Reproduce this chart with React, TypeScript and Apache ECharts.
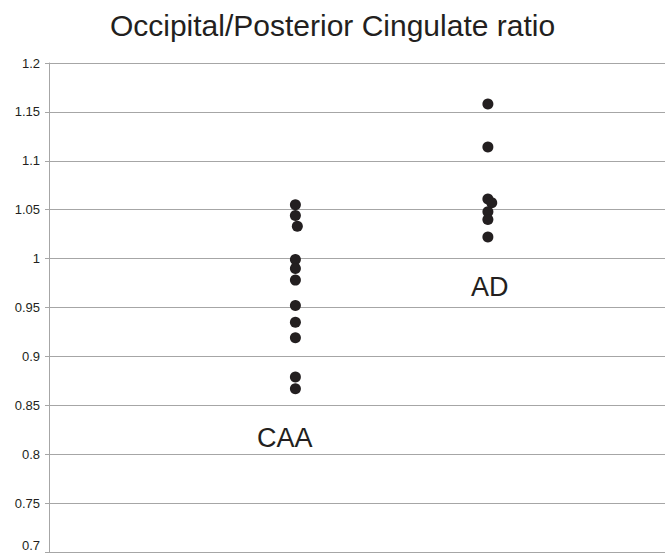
import React, { useEffect, useRef } from "react";
import * as echarts from "echarts";

const titleText = "Occipital/Posterior Cingulate ratio";
const groupNames = ["CAA", "AD"];
const caaX = [1.28, 1.28, 1.29, 1.28, 1.28, 1.28, 1.28, 1.28, 1.28, 1.28, 1.28];
const caaY = [1.055, 1.044, 1.033, 0.999, 0.990, 0.978, 0.952, 0.935, 0.919, 0.879, 0.867];
const adX = [2.28, 2.28, 2.28, 2.30, 2.28, 2.28, 2.28];
const adY = [1.158, 1.114, 1.061, 1.057, 1.048, 1.040, 1.022];
const yMin = 0.7;
const yMax = 1.2;
const yStep = 0.05;
const xMin = 0;
const xMax = 3.2;

export default function App() {
  const ref = useRef<HTMLDivElement>(null);
  useEffect(() => {
    document.body.style.margin = "0";
    if (!ref.current) return;
    const chart = echarts.init(ref.current, undefined, { renderer: "svg" });
    const font = "'Liberation Sans', Arial, sans-serif";
    chart.setOption({
      animation: false,
      backgroundColor: "#ffffff",
      title: {
        text: titleText,
        left: "center",
        top: 5,
        textStyle: { fontFamily: font, fontSize: 30, fontWeight: "normal", color: "#231f20" },
      },
      grid: { left: 49, right: 0, top: 63, bottom: 4 },
      xAxis: {
        type: "value",
        min: xMin,
        max: xMax,
        show: false,
        splitLine: { show: false },
      },
      yAxis: {
        type: "value",
        min: yMin,
        max: yMax,
        interval: yStep,
        axisLine: { show: true, lineStyle: { color: "#a6a6a6", width: 1 } },
        axisTick: { show: true, length: 4, lineStyle: { color: "#a6a6a6" } },
        axisLabel: {
          fontFamily: font,
          fontSize: 13,
          color: "#231f20",
          margin: 9,
          verticalAlignMinLabel: "bottom",
        },
        splitLine: { show: true, lineStyle: { color: "#a6a6a6", width: 1 } },
      },
      graphic: [
        {
          type: "text",
          left: 257,
          top: 424,
          style: { text: groupNames[0], font: `27px ${font}`, fill: "#231f20" },
        },
        {
          type: "text",
          left: 471,
          top: 273,
          style: { text: groupNames[1], font: `27px ${font}`, fill: "#231f20" },
        },
      ],
      series: [
        {
          name: groupNames[0],
          type: "scatter",
          symbol: "circle",
          symbolSize: 11,
          itemStyle: { color: "#231f20", opacity: 1 },
          data: caaY.map((v, i) => [caaX[i], v]),
        },
        {
          name: groupNames[1],
          type: "scatter",
          symbol: "circle",
          symbolSize: 11,
          itemStyle: { color: "#231f20", opacity: 1 },
          data: adY.map((v, i) => [adX[i], v]),
        },
      ],
    });
    return () => chart.dispose();
  }, []);
  return <div ref={ref} style={{ width: 665, height: 556 }} />;
}
